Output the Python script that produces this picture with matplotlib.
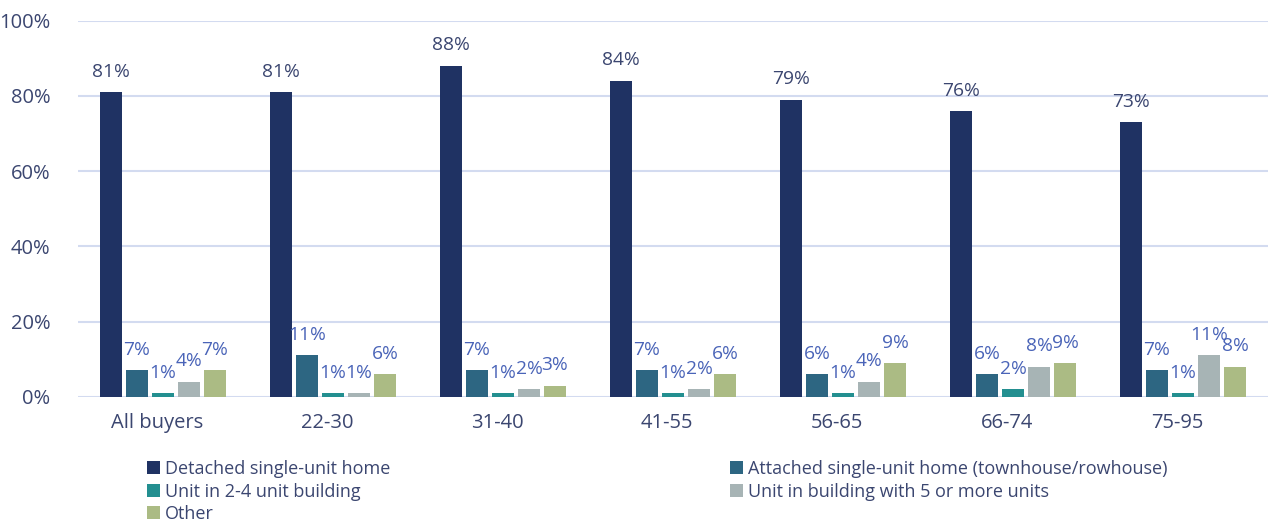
import numpy as np
import matplotlib
matplotlib.use('Agg')
import matplotlib.pyplot as plt
from matplotlib.patches import Patch

plt.rcParams['font.family'] = ['Open Sans', 'DejaVu Sans']

# Data (percent of buyers)
groups = ['All buyers', '22-30', '31-40', '41-55', '56-65', '66-74', '75-95']
series_names = ['Detached single-unit home',
                'Attached single-unit home (townhouse/rowhouse)',
                'Unit in 2-4 unit building',
                'Unit in building with 5 or more units',
                'Other']
detached = [81, 81, 88, 84, 79, 76, 73]
attached = [7, 11, 7, 7, 6, 6, 7]
unit_2_4 = [1, 1, 1, 1, 1, 2, 1]
unit_5_plus = [4, 1, 2, 2, 4, 8, 11]
other = [7, 6, 3, 6, 9, 9, 8]

colors = ['#1f3263', '#2d6682', '#238f90', '#a7b4b5', '#abbb84']
text_dark = '#3b4670'
text_blue = '#4a64b8'
grid_col = '#d3dbf0'

series = [detached, attached, unit_2_4, unit_5_plus, other]

fig = plt.figure(figsize=(12.68, 5.27), dpi=100)
ax = fig.add_axes([0.0615, 0.247, 0.9385, 0.714])

x = np.arange(len(groups))
step = 0.153
width = 0.124
for i, (vals, c) in enumerate(zip(series, colors)):
    pos = x + (i - 2) * step
    bars = ax.bar(pos, np.array(vals) / 100, width=width, color=c, zorder=3)
    for b, v in zip(bars, vals):
        ax.text(b.get_x() + b.get_width() / 2, b.get_height() + 0.03, f'{v}%',
                ha='center', va='bottom', fontsize=13.8,
                color=text_dark if i == 0 else text_blue)

ax.set_xlim(-0.5, len(groups) - 0.5)
ax.set_ylim(0, 1.0)
ax.set_yticks(np.arange(0, 1.01, 0.2))
ax.set_yticklabels([f'{int(t * 100)}%' for t in np.arange(0, 1.01, 0.2)])
ax.set_xticks(x - 0.035)
ax.set_xticklabels(groups)
ax.tick_params(axis='both', length=0, labelsize=14.5, colors=text_dark)
ax.tick_params(axis='y', pad=20)
ax.tick_params(axis='x', pad=12)
ax.yaxis.grid(True, color=grid_col, linewidth=1.5, zorder=0)
for s in ax.spines.values():
    s.set_visible(False)
ax.set_axisbelow(True)

# legend: fill row by row like the original
order = [0, 2, 4, 1, 3]
handles = [Patch(facecolor=colors[k], edgecolor='none') for k in order]
labels = [series_names[k] for k in order]
fig.legend(handles, labels, ncol=2, loc='upper left', bbox_to_anchor=(0.116, 0.127),
           frameon=False, fontsize=13, labelcolor=text_dark,
           handlelength=0.7, handleheight=0.7, handletextpad=0.3,
           columnspacing=18.8, labelspacing=0.25, borderpad=0, borderaxespad=0)

fig.savefig('out.png', dpi=100)
